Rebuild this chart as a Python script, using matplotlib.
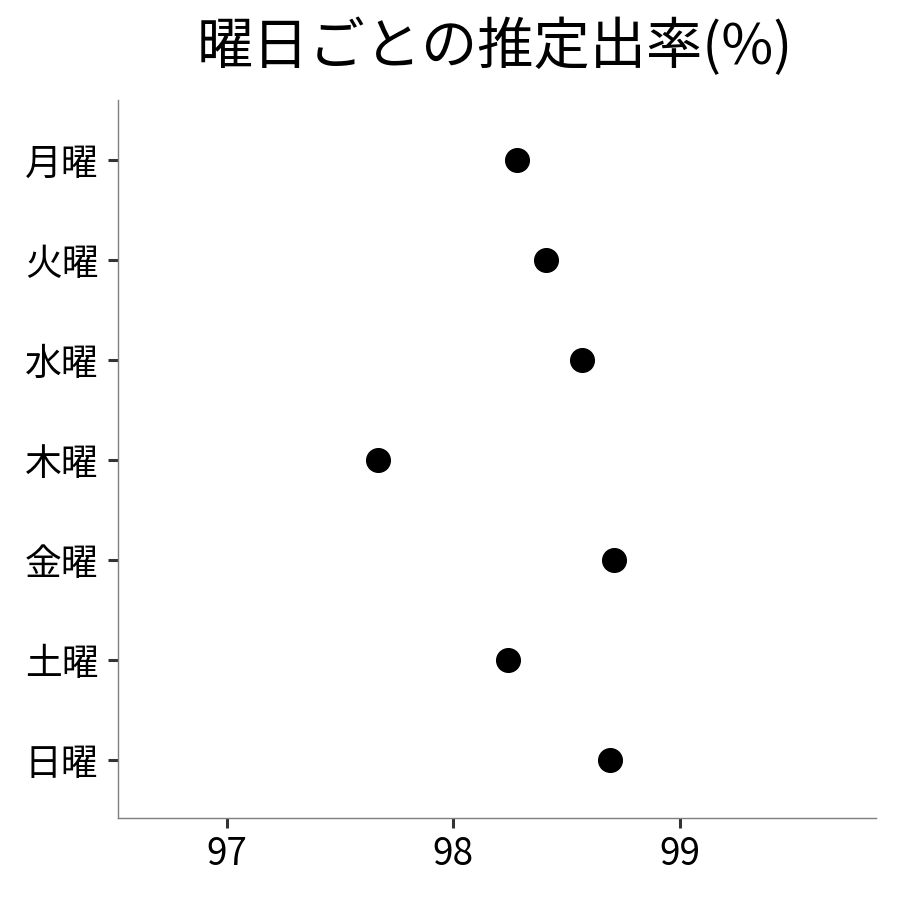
import matplotlib
matplotlib.use("Agg")
import matplotlib.pyplot as plt

plt.rcParams['font.family'] = ['Noto Sans CJK JP', 'DejaVu Sans']

days = ["月曜", "火曜", "水曜", "木曜", "金曜", "土曜", "日曜"]
rates = [98.28, 98.41, 98.57, 97.67, 98.71, 98.24, 98.69]
xticks = [97, 98, 99]

fig = plt.figure(figsize=(9, 9), dpi=100)
ax = fig.add_axes([0.131, 0.091, 0.842, 0.798])

ypos = list(range(len(days)))
ax.scatter(rates, ypos, s=290, color="black", zorder=3)

ax.set_yticks(ypos)
ax.set_yticklabels(days)
ax.set_ylim(len(days) - 1 + 0.58, -0.6)
ax.set_xticks(xticks)
ax.set_xticklabels([str(t) for t in xticks])
ax.set_xlim(96.52, 99.865)

for s in ["top", "right"]:
    ax.spines[s].set_visible(False)
for s in ["left", "bottom"]:
    ax.spines[s].set_color("#7f7f7f")
    ax.spines[s].set_linewidth(1.0)

ax.tick_params(axis="both", length=7.5, width=2.2, color="#333333", labelsize=26.5, pad=5)
ax.tick_params(axis="y", pad=6.5)

fig.suptitle("曜日ごとの推定出率(%)", fontsize=40.5, x=0.55, y=0.979)

fig.savefig("out.png", dpi=100)
